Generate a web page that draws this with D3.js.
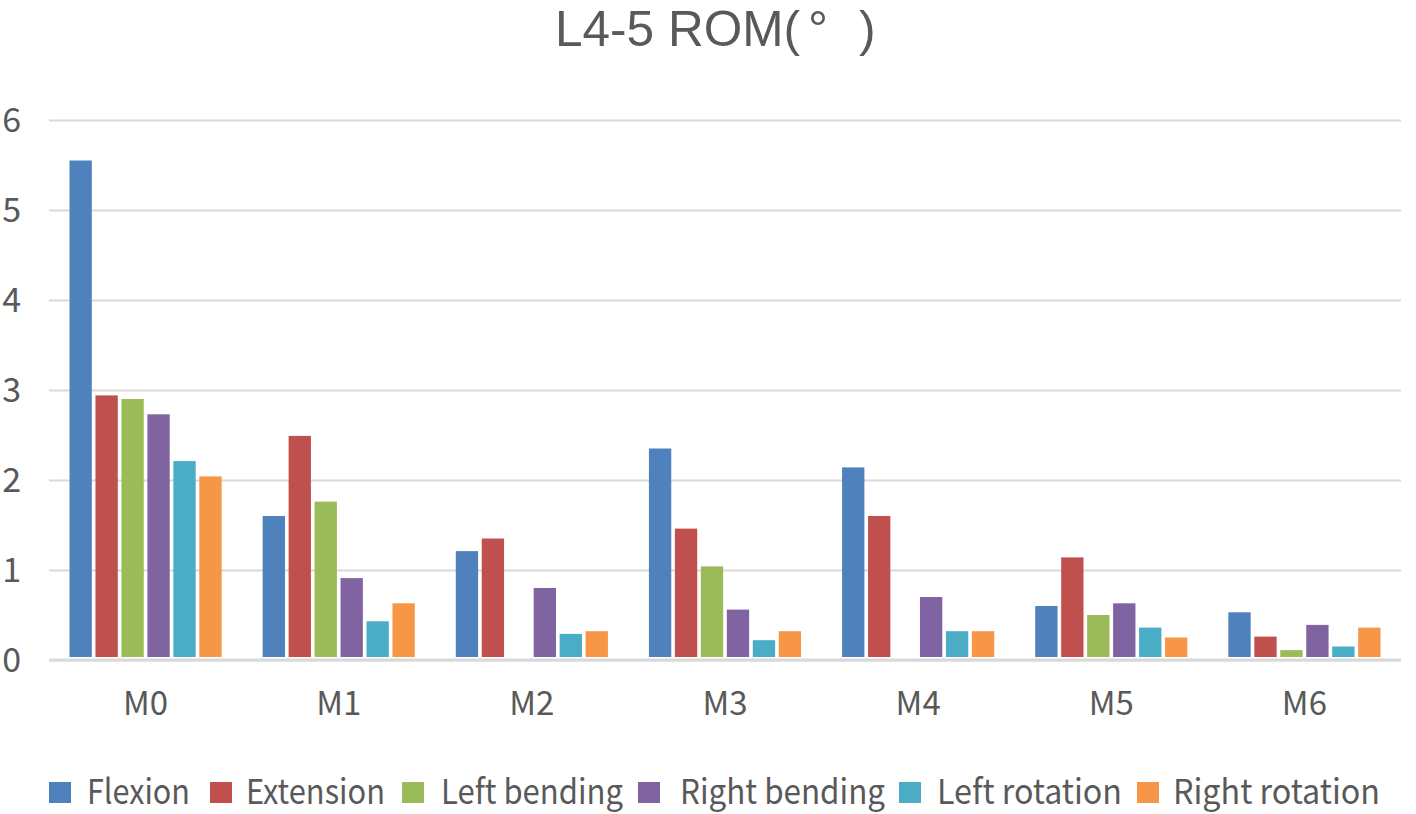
<!DOCTYPE html>
<html>
<head>
<meta charset="utf-8">
<script src="https://cdn.jsdelivr.net/npm/d3@7"></script>
<style>
  html, body { margin: 0; padding: 0; background: #ffffff; }
  svg { display: block; }
  text { font-family: "Noto Sans CJK SC", "Noto Sans", sans-serif; fill: #595959; }
</style>
</head>
<body>
<div id="chart"></div>
<script>
// ---- data ----
const categories = ["M0", "M1", "M2", "M3", "M4", "M5", "M6"];
const seriesNames = ["Flexion", "Extension", "Left bending", "Right bending", "Left rotation", "Right rotation"];
const flexion       = [5.55, 1.60, 1.21, 2.35, 2.14, 0.60, 0.53];
const extension     = [2.94, 2.49, 1.35, 1.46, 1.60, 1.14, 0.26];
const leftBending   = [2.90, 1.76, 0.00, 1.04, 0.00, 0.50, 0.11];
const rightBending  = [2.73, 0.91, 0.80, 0.56, 0.70, 0.63, 0.39];
const leftRotation  = [2.21, 0.43, 0.29, 0.22, 0.32, 0.36, 0.15];
const rightRotation = [2.04, 0.63, 0.32, 0.32, 0.32, 0.25, 0.36];
const yTicks = [0, 1, 2, 3, 4, 5, 6];
const colors = ["#4F81BD", "#C0504D", "#9BBB59", "#8064A2", "#4BACC6", "#F79646"];
const titleText = "L4-5 ROM(°)";

const seriesValues = [flexion, extension, leftBending, rightBending, leftRotation, rightRotation];

// ---- layout ----
const W = 1416, H = 814;
const plot = { left: 49, right: 1401, top: 120, bottom: 660 };

const svg = d3.select("#chart").append("svg").attr("width", W).attr("height", H);

const x0 = d3.scaleBand().domain(categories).range([plot.left, plot.right]).paddingInner(0).paddingOuter(0);
const groupPad = 20.5;
const x1 = d3.scaleBand().domain(seriesNames)
  .range([groupPad, x0.bandwidth() - groupPad]).paddingInner(0.14).paddingOuter(0);
const y = d3.scaleLinear().domain([0, 6]).range([plot.bottom, plot.top]);

// gridlines
const yAxis = d3.axisLeft(y).tickValues(yTicks).tickSize(-(plot.right - plot.left)).tickFormat(d3.format("d"));
const gy = svg.append("g").attr("transform", `translate(${plot.left},0)`).call(yAxis);
gy.select(".domain").remove();
gy.selectAll(".tick line").attr("stroke", "#d9d9d9").attr("stroke-width", 2);
gy.selectAll(".tick text")
  .attr("x", -28).attr("dy", "0.34em")
  .attr("font-size", 34).attr("fill", "#595959")
  .style("font-family", "'Noto Sans CJK SC', 'Noto Sans', sans-serif");

// bars
const groups = svg.append("g").selectAll("g.cat")
  .data(categories).join("g").attr("class", "cat")
  .attr("transform", d => `translate(${x0(d)},0)`);

groups.selectAll("rect")
  .data((c, i) => seriesNames.map((s, k) => ({ s, k, v: seriesValues[k][i] })))
  .join("rect")
  .attr("x", d => x1(d.s))
  .attr("width", x1.bandwidth())
  .attr("y", d => y(d.v))
  .attr("height", d => Math.max(0, y(0) - y(d.v) - 3))
  .attr("fill", d => colors[d.k]);

// redraw the zero line on top
svg.append("line")
  .attr("x1", plot.left).attr("x2", plot.right)
  .attr("y1", y(0)).attr("y2", y(0))
  .attr("stroke", "#d9d9d9").attr("stroke-width", 3);

// x axis labels
const xAxis = d3.axisBottom(x0).tickSize(0).tickPadding(0);
const gx = svg.append("g").attr("transform", `translate(0,${plot.bottom})`).call(xAxis);
gx.select(".domain").remove();
gx.selectAll(".tick text")
  .attr("y", 55).attr("dy", 0)
  .attr("font-size", 33).attr("fill", "#595959")
  .style("font-family", "'Noto Sans CJK SC', 'Noto Sans', sans-serif");

// title
const title = svg.append("text").attr("y", 46).attr("font-size", 50).attr("fill", "#595959")
  .style("font-family", "'Liberation Sans', Arial, sans-serif");
title.append("tspan").attr("x", 555).text(titleText.slice(0, 9))
  .attr("textLength", 245).attr("lengthAdjust", "spacingAndGlyphs");
title.append("tspan").attr("x", 808).text(titleText.slice(9, 10));
title.append("tspan").attr("x", 859).text(titleText.slice(10));

// legend
const legendItems = [
  { sx: 49, tx: 87, tw: 103 },
  { sx: 210, tx: 246, tw: 139 },
  { sx: 402, tx: 441, tw: 182 },
  { sx: 638, tx: 680, tw: 205 },
  { sx: 899, tx: 937, tw: 185 },
  { sx: 1137, tx: 1173, tw: 207 }
];
const legend = svg.append("g");
seriesNames.forEach((name, k) => {
  const it = legendItems[k];
  legend.append("rect")
    .attr("x", it.sx).attr("y", 782).attr("width", 22).attr("height", 21)
    .attr("fill", colors[k]);
  legend.append("text")
    .attr("x", it.tx).attr("y", 804)
    .attr("font-size", 34)
    .attr("textLength", it.tw).attr("lengthAdjust", "spacingAndGlyphs")
    .text(name);
});
</script>
</body>
</html>
